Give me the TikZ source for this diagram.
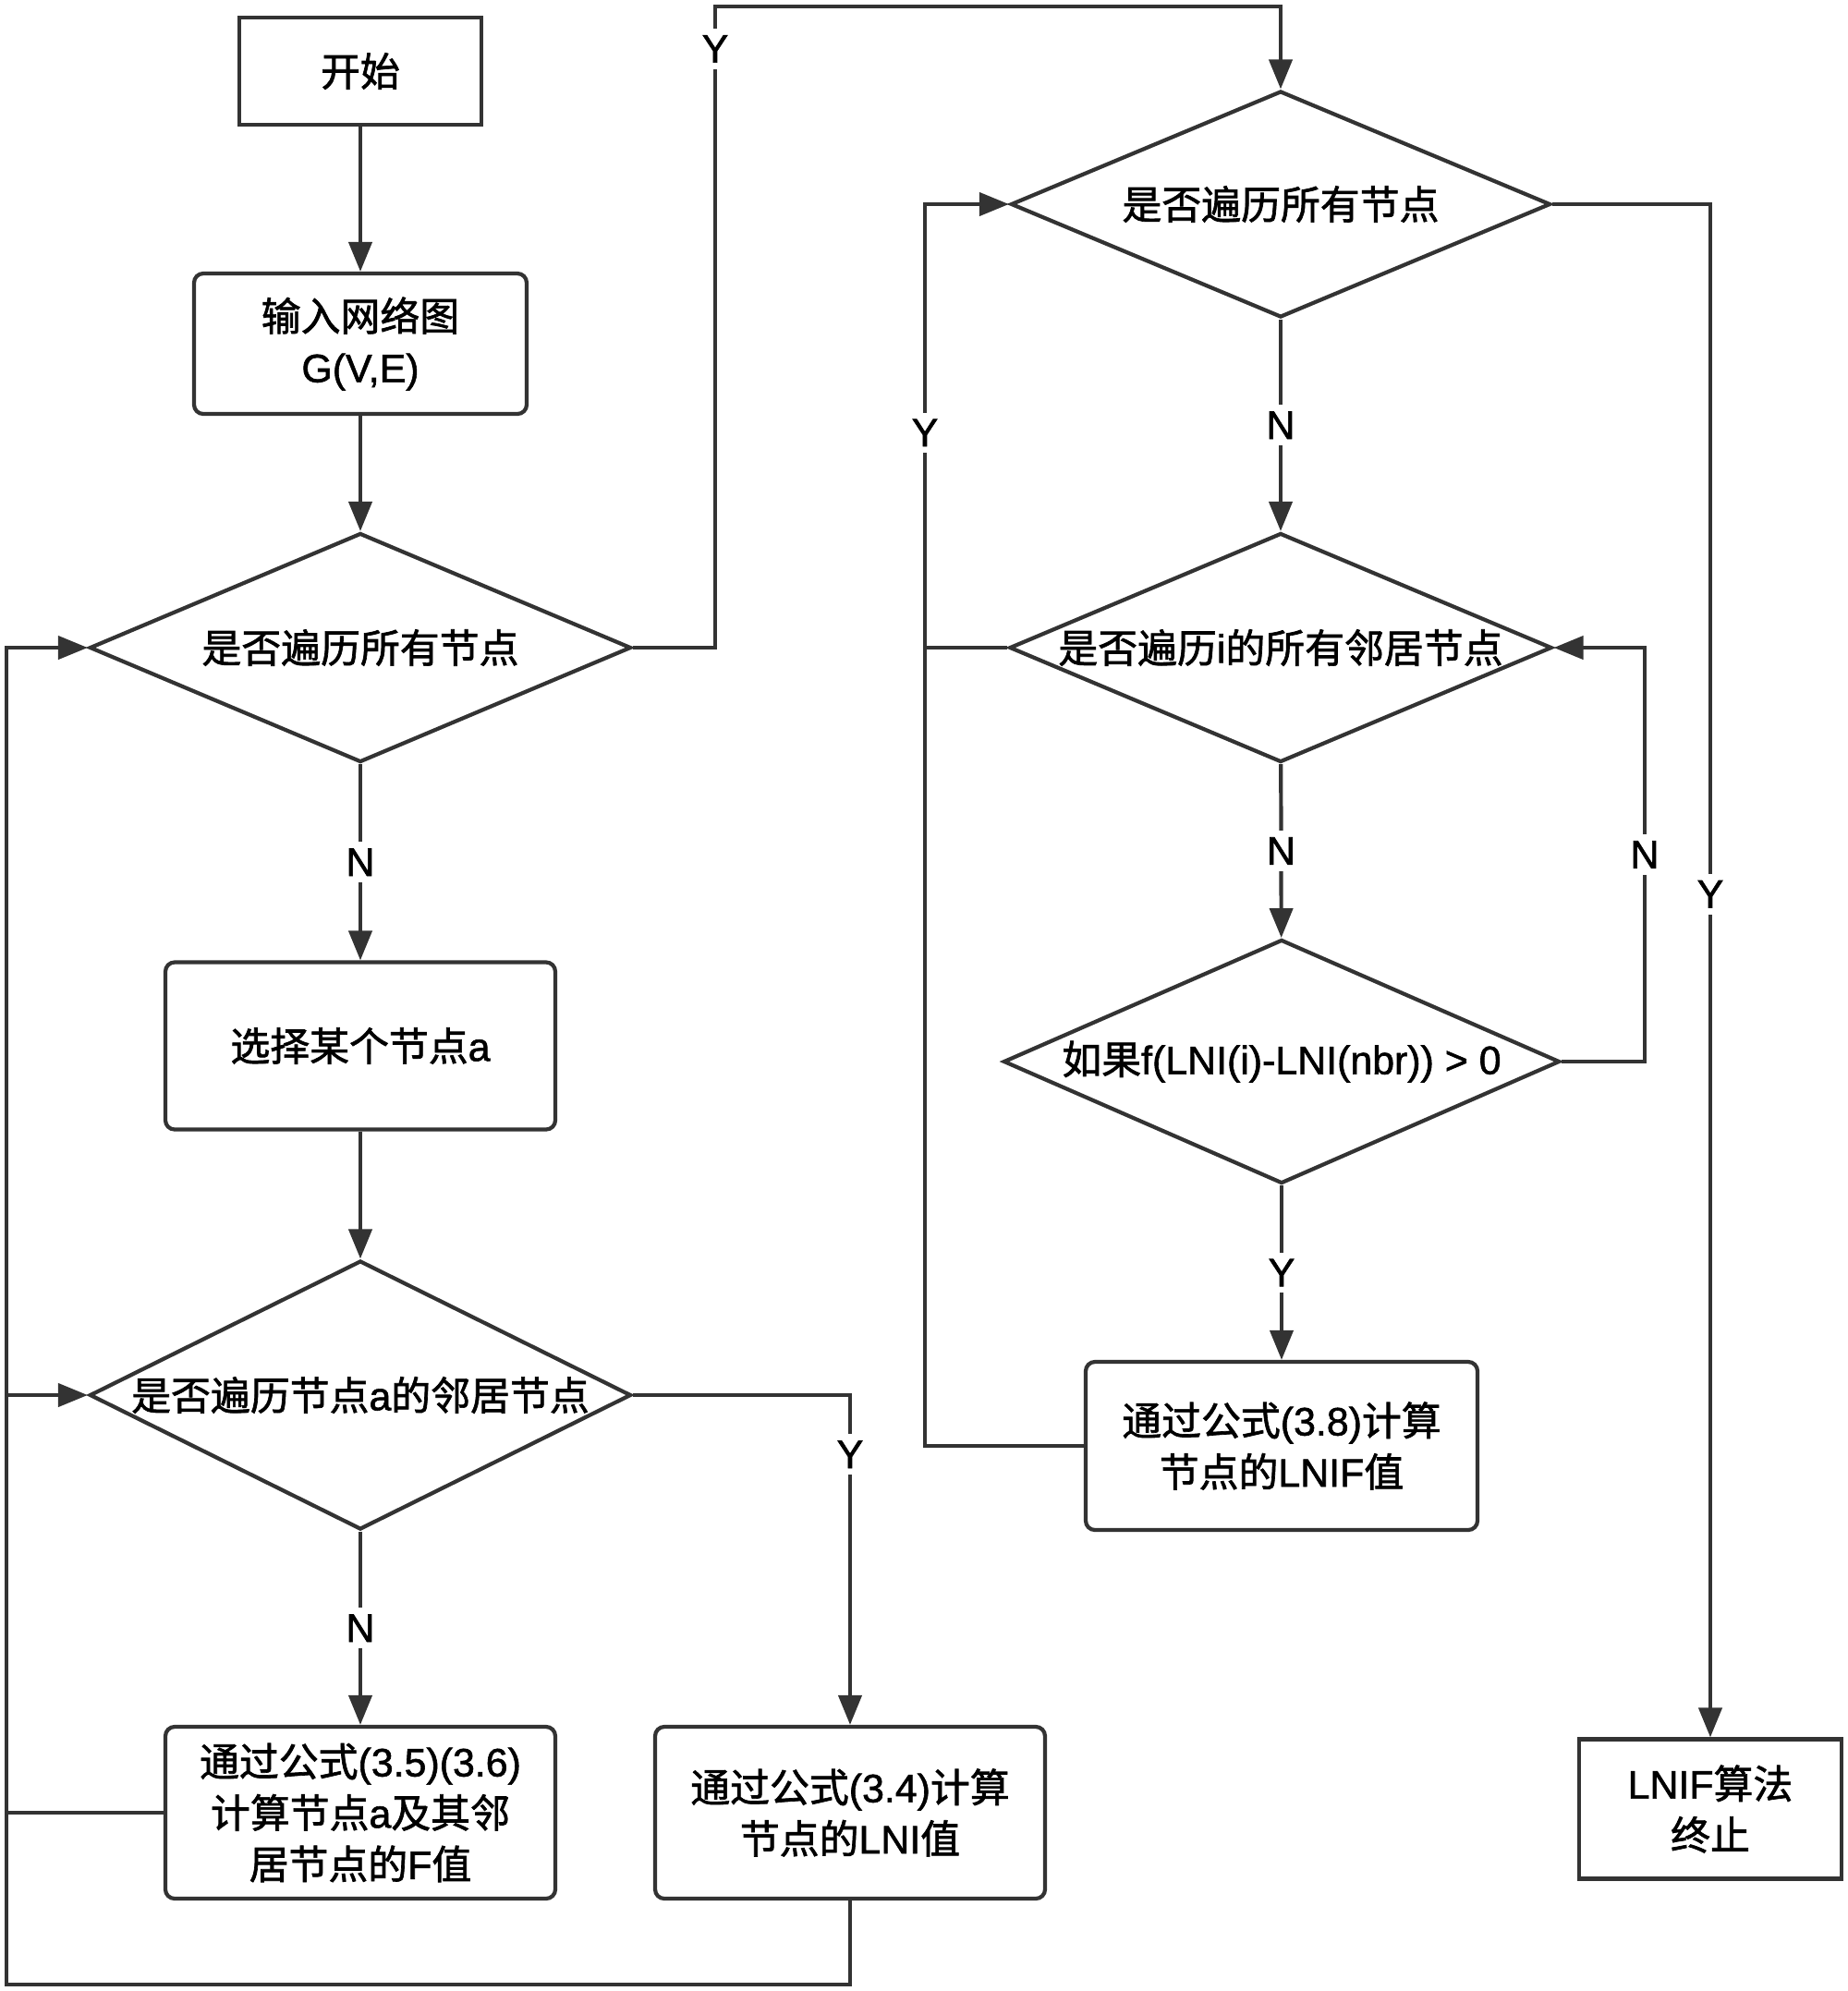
\documentclass[tikz,border=0pt]{standalone}
\usepackage{fontspec}
\setmainfont{Liberation Sans}[FakeBold=1.4,AutoFakeBold=1.4]
\newfontfamily\cjk{Noto Sans CJK SC}[FakeBold=1.6,AutoFakeBold=1.6]
\newcommand{\zh}[1]{{\cjk\bfseries #1}}
\usepackage{tikz}
\usetikzlibrary{arrows.meta,shapes.geometric,positioning}
\tikzset{
  line/.style={draw=black!80, line width=1.2pt},
  arr/.style={line, -{Triangle[length=0.32cm,width=0.25cm]}},
  stepbox/.style={line, rounded corners=0.1cm, align=center, inner sep=0pt},
  endbox/.style={line, align=center, inner sep=0pt},
  decide/.style={line, diamond, inner sep=0pt, inner xsep=-0.6cm, aspect=2.4},
  yn/.style={fill=white, inner sep=2pt}
}
\begin{document}
\begin{tikzpicture}[font=\fontsize{12.2}{15.8}\selectfont]
\useasboundingbox (0,0) rectangle (20,-21.55);
%left column
\node[endbox, minimum width=2.62cm, minimum height=1.16cm] (start) at (3.90,-0.77) {\zh{开始}};
\node[stepbox, minimum width=3.60cm, minimum height=1.52cm] (input) at (3.90,-3.72) {\zh{输入网络图}\\G(V,E)};
\node[decide, minimum width=5.86cm, minimum height=2.48cm] (d1) at (3.90,-7.01) {\zh{是否遍历所有节点}};
\node[stepbox, minimum width=4.22cm, minimum height=1.81cm] (pick) at (3.90,-11.32) {\zh{选择某个节点}\textbf{a}};
\node[decide, minimum width=5.86cm, minimum height=2.91cm] (d2) at (3.90,-15.10) {\zh{是否遍历节点}\textbf{a}\zh{的邻居节点}};
\node[stepbox, minimum width=4.22cm, minimum height=1.86cm, font=\fontsize{12.2}{15.8}\selectfont\bfseries] (fval) at (3.90,-19.62) {\zh{通过公式}(3.5)(3.6)\\\zh{计算节点}a\zh{及其邻}\\\zh{居节点的}F\zh{值}};
\node[stepbox, minimum width=4.22cm, minimum height=1.86cm, font=\fontsize{12.2}{15.8}\selectfont\bfseries] (lni) at (9.20,-19.62) {\zh{通过公式}(3.4)\zh{计算}\\\zh{节点的}LNI\zh{值}};
%right column
\node[decide, minimum width=5.84cm, minimum height=2.45cm] (d3) at (13.86,-2.21) {\zh{是否遍历所有节点}};
\node[decide, minimum width=5.87cm, minimum height=2.48cm, font=\fontsize{12.2}{15.8}\selectfont\bfseries] (d4) at (13.86,-7.01) {\zh{是否遍历}i\zh{的所有邻居节点}};
\node[decide, minimum width=6.02cm, minimum height=2.64cm, font=\fontsize{12.2}{15.8}\selectfont\bfseries] (d5) at (13.87,-11.49) {\zh{如果}f(LNI(i)-LNI(nbr)) > 0};
\node[stepbox, minimum width=4.24cm, minimum height=1.82cm, font=\fontsize{12.2}{15.8}\selectfont\bfseries] (lnif) at (13.87,-15.65) {\zh{通过公式}(3.8)\zh{计算}\\\zh{节点的}LNIF\zh{值}};
\node[endbox, minimum width=2.84cm, minimum height=1.51cm, font=\fontsize{12.2}{15.8}\selectfont\bfseries] (stop) at (18.51,-19.58) {LNIF\zh{算法}\\\zh{终止}};
%corners of the loops
\coordinate (lb) at (0.07,-21.48);
\coordinate (ytop) at (7.74,-0.07);
\coordinate (lr) at (10.01,-2.21);
\coordinate (rr) at (17.80,-7.01);
%main flow
\draw[arr] (start) -- (input);
\draw[arr] (input) -- (d1);
\draw[arr] (d1) -- node[yn]{N} (pick);
\draw[arr] (pick) -- (d2);
\draw[arr] (d2) -- node[yn]{N} (fval);
\draw[arr] (d2.east) -| node[yn,pos=0.59]{Y} (lni.north);
\draw[arr] (lni.south) |- (lb) |- (d1.west);
\draw[line] (fval.west) -- (fval.west -| lb);
\draw[arr] (d2.west -| lb) -- (d2.west);
\draw[arr] (d1.east) -| node[yn,pos=0.967]{Y} (ytop) -| (d3.north);
\draw[arr] (d3) -- node[yn]{N} (d4);
\draw[arr] (d4) -- node[yn]{N} (d5);
\draw[arr] (d5) -- node[yn]{Y} (lnif);
\draw[arr] (lnif.west) -| node[yn,pos=0.908]{Y} (lr) -- (d3.west);
\draw[line] (d4.west) -- (d4.west -| lr);
\draw[arr] (d5.east) -| node[yn,pos=0.75]{N} (rr) -- (d4.east);
\draw[arr] (d3.east) -| node[yn,pos=0.725]{Y} (stop.north);
\end{tikzpicture}
\end{document}
